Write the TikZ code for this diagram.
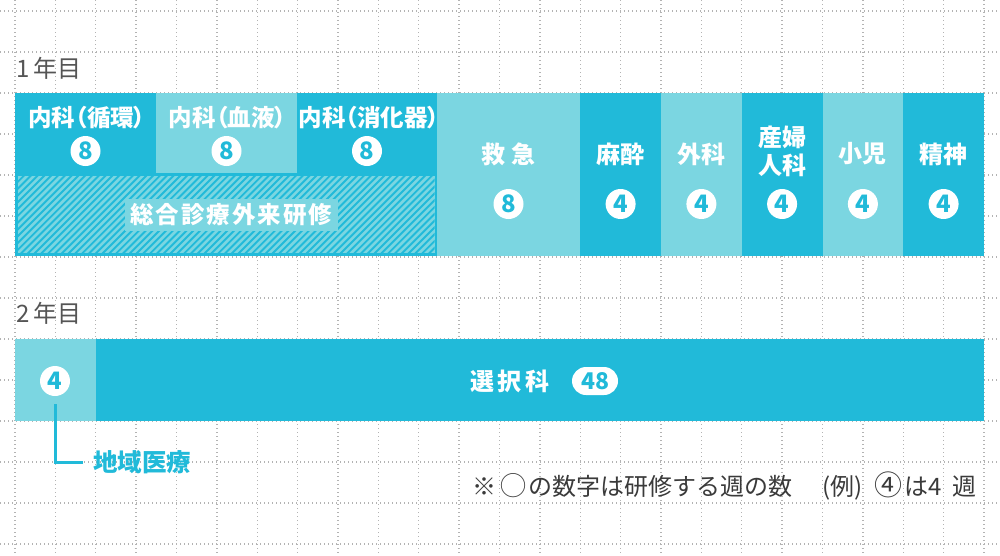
\documentclass[tikz,border=0pt]{standalone}
\usepackage{fontspec}
\newfontfamily\jp{Noto Sans CJK JP}
\newfontfamily\jpp[RawFeature=+palt]{Noto Sans CJK JP}
\newcommand\trk[1]{\hspace{#1}}
\definecolor{dk}{HTML}{21BAD9}
\definecolor{lt}{HTML}{7BD6E1}
\definecolor{gridc}{HTML}{B3B3B3}
\definecolor{txtg}{HTML}{555555}
\definecolor{fnc}{HTML}{3A3A3A}
\tikzset{
  gridline/.style={gridc, line width=1.3pt, dash pattern=on 1.3pt off 2.7pt},
  cellbox/.style={inner sep=0pt, outer sep=0pt, anchor=north west, draw=none},
  lbl/.style={text=white, inner sep=0pt, align=center, font=\jpp\bfseries\fontsize{24}{28}\selectfont},
  lblk/.style={text=white, inner sep=0pt, align=center, font=\jpp\bfseries\fontsize{23.5}{28}\selectfont},
  wk/.style={circle, fill=white, minimum size=30pt, inner sep=0pt, text=dk, font=\jp\bfseries\fontsize{24}{24}\selectfont},
  year/.style={text=txtg, inner sep=0pt, anchor=west, font=\jp\fontsize{24}{24}\selectfont},
  conn/.style={dk, line width=3pt},
}
\begin{document}
\begin{tikzpicture}[x=1pt,y=-1pt]
\useasboundingbox (0,0) rectangle (1000,555);
\fill[white] (0,0) rectangle (1000,555);
% grid
\foreach \i in {0,...,24} \draw[gridline] ({15+40.375*\i},0) -- ({15+40.375*\i},555);
\foreach \j in {0,...,13} \draw[gridline] (0,{11+41*\j}) -- (1000,{11+41*\j});

% year labels
\node[year] (y1) at (16,68) {1\trk{4pt}年目};
\node[year] (y2) at (16,313) {2\trk{4pt}年目};

% year 1 cells
\node[cellbox, fill=dk, minimum width=141pt, minimum height=80pt] (c1) at (15,93) {};
\node[cellbox, fill=lt, minimum width=141pt, minimum height=80pt] (c2) at (156,93) {};
\node[cellbox, fill=dk, minimum width=140pt, minimum height=80pt] (c3) at (297,93) {};
\node[cellbox, fill=dk, minimum width=422pt, minimum height=83pt] (gf) at (15,173) {};
\node[cellbox, fill=lt, minimum width=143.25pt, minimum height=163pt] (c4) at (437,93) {};
\node[cellbox, fill=dk, minimum width=80.75pt, minimum height=163pt] (c5) at (580.25,93) {};
\node[cellbox, fill=lt, minimum width=80.75pt, minimum height=163pt] (c6) at (661,93) {};
\node[cellbox, fill=dk, minimum width=80.75pt, minimum height=163pt] (c7) at (741.75,93) {};
\node[cellbox, fill=lt, minimum width=80.75pt, minimum height=163pt] (c8) at (822.5,93) {};
\node[cellbox, fill=dk, minimum width=80.75pt, minimum height=163pt] (c9) at (903.25,93) {};

% hatched area
\fill[lt] (17.5,176) rectangle (434.5,253);
\begin{scope}
  \clip (17.5,176) rectangle (434.5,253);
  \foreach \k in {0,...,75} \draw[dk, line width=1.9pt] ({-70+6.8*\k},256) -- ({-70+6.8*\k+90},166);
\end{scope}
\node[fill=lt, inner xsep=5.5pt, inner ysep=4pt, minimum height=32pt, text=white, font=\jp\bfseries\fontsize{23.5}{23.5}\selectfont] (gen) at (231.5,215)
  {総\trk{2pt}合\trk{2pt}診\trk{2pt}療\trk{2pt}外\trk{2pt}来\trk{2pt}研\trk{2pt}修};

% labels year 1
\node[lblk] (t1) at (87,118) {内科（循環）};
\node[wk] (w1) at (85.5,151) {8};
\node[lblk] (t2) at (227.5,118) {内科（血液）};
\node[wk] (w2a) at (226.5,151) {8};
\node[lblk] (t3) at (369,118) {内科（消化器）};
\node[wk] (w3) at (367,151) {8};
\node[lbl] (t4) at (508.5,154) {救\trk{6pt}急};
\node[wk] (w4) at (508.5,204) {8};
\node[lbl] (t5) at (620.6,154) {麻酔};
\node[wk] (w5) at (620.6,204) {4};
\node[lbl] (t6) at (701.4,154) {外科};
\node[wk] (w6) at (701.4,204) {4};
\node[lbl] (t7) at (782.1,151) {産婦\\人科};
\node[wk] (w7) at (782.1,204) {4};
\node[lbl] (t8) at (862.9,154) {小児};
\node[wk] (w8) at (862.9,204) {4};
\node[lbl] (t9) at (943.6,154) {精神};
\node[wk] (w9) at (943.6,204) {4};

% year 2
\node[cellbox, fill=lt, minimum width=81pt, minimum height=82pt] (d1) at (15,339) {};
\node[cellbox, fill=dk, minimum width=888pt, minimum height=82pt] (d2) at (96,339) {};
\node[wk] (w2) at (55,381) {4};
\node[lbl] (sen) at (510,381) {選\trk{4pt}択\trk{4pt}科};
\node[fill=white, rounded corners=14pt, minimum width=46pt, minimum height=28pt, inner sep=0pt, text=dk, font=\jp\bfseries\fontsize{23}{23}\selectfont] (p48) at (595,381) {48};

% connector + label
\node[inner sep=0pt, anchor=west, text=dk, font=\jp\bfseries\fontsize{24.5}{24.5}\selectfont] (chi) at (93,462) {地域医療};
\draw[conn] ([yshift=-8pt]w2.south) |- ([xshift=-10pt]chi.west);

% footnote
\node[inner sep=0pt, anchor=west, text=fnc, font=\jp\fontsize{24}{24}\selectfont] (fn) at (472,486)
  {※\trk{4pt}{\fontsize{26}{24}\selectfont ◯}\trk{2pt}の数字は研修する週の数\trk{30pt}(例)\trk{12pt}{\fontsize{28}{24}\selectfont ④}\trk{2pt}は4\trk{11pt}週};
\end{tikzpicture}
\end{document}
